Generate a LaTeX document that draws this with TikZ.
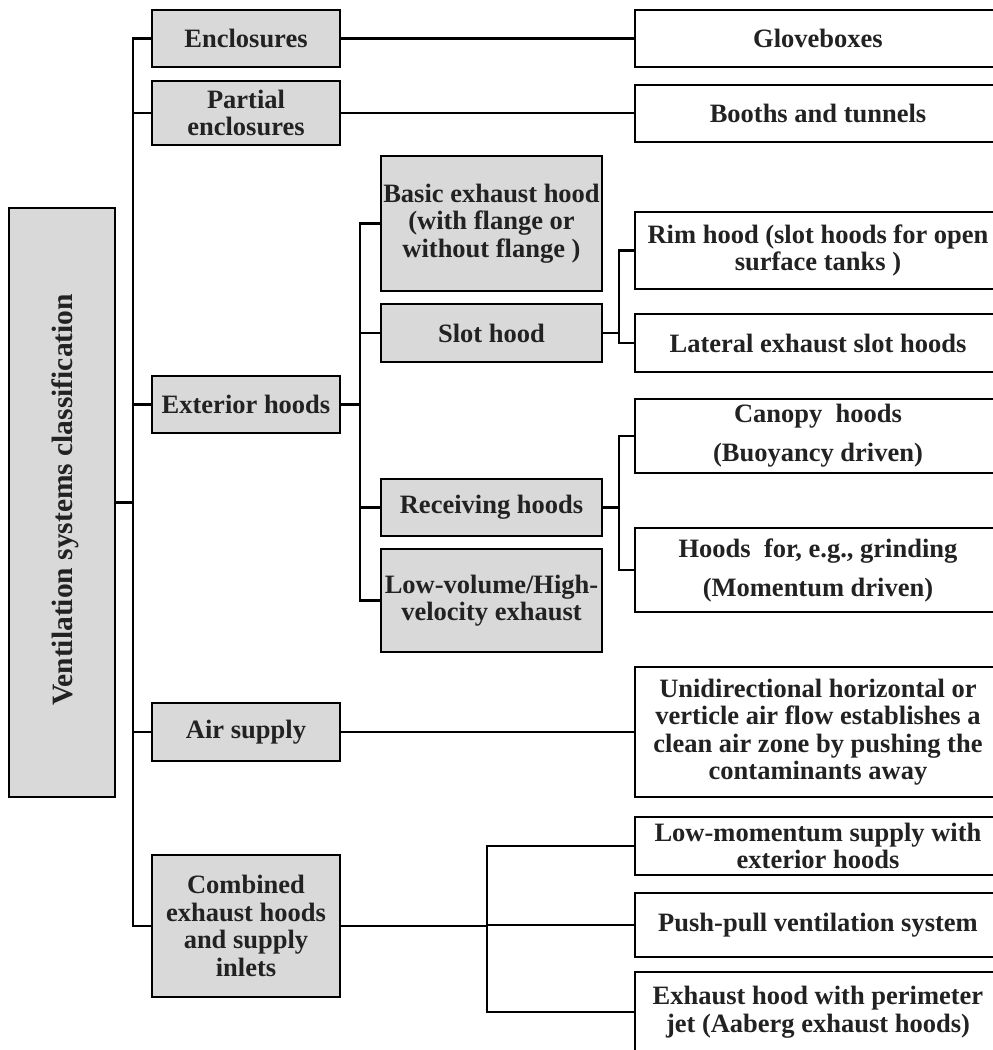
\documentclass[tikz,border=0pt]{standalone}
\usepackage{fontspec}
\setmainfont{Liberation Serif}
\definecolor{boxgray}{HTML}{D9D9D9}
\definecolor{txt}{HTML}{222222}
\begin{document}
\begin{tikzpicture}[x=1pt,y=-1pt,
  box/.style={draw=black, line width=2.6pt, inner sep=1pt, align=center, text=txt,
    font=\fontsize{26.5}{27.5}\selectfont\bfseries},
  graybox/.style={box, fill=boxgray},
  whitebox/.style={box, fill=white},
  lone/.style={graybox, minimum width=188pt},
  ltwo/.style={graybox, minimum width=221pt},
  right/.style={whitebox, minimum width=366pt},
  conn/.style={line width=2.2pt, draw=black}]
\useasboundingbox (0,0) rectangle (993,1050);
\clip (0,0) rectangle (993,1050);

% main box
\node[graybox, minimum width=106pt, minimum height=589pt] (main) at (62,502.5) {};
\node[rotate=90, text=txt, font=\fontsize{29.5}{30}\selectfont\bfseries, inner sep=0pt]
  (mainlabel) at (65,500) {Ventilation systems classification};

% level 1
\node[lone, minimum height=57pt]  (enc)  at (246,38.5)  {Enclosures};
\node[lone, minimum height=64pt]  (part) at (246,113)   {Partial\\enclosures};
\node[lone, minimum height=57pt]  (ext)  at (246,404.5) {Exterior hoods};
\node[lone, minimum height=58pt]  (air)  at (246,732)   {Air supply};
\node[lone, minimum height=142pt] (comb) at (246,926)   {Combined\\exhaust hoods\\and supply\\inlets};

% level 2
\node[ltwo, minimum height=135pt] (basic)  at (491.5,223.5) {Basic exhaust hood\\(with flange or\\without flange )};
\node[ltwo, minimum height=58pt]  (slot)   at (491.5,333)   {Slot hood};
\node[ltwo, minimum height=57pt]  (recv)   at (491.5,507.5) {Receiving hoods};
\node[ltwo, minimum height=103pt] (lowvol) at (491.5,600.5) {Low-volume/High-\\velocity exhaust};

% right column
\node[right, minimum height=57pt]  (glove)  at (818,38.5)  {Gloveboxes};
\node[right, minimum height=57pt]  (booth)  at (818,113.5) {Booths and tunnels};
\node[right, minimum height=77pt]  (rim)    at (818,250.5) {Rim hood (slot hoods for open\\surface tanks )};
\node[right, minimum height=58pt]  (lat)    at (818,343)   {Lateral exhaust slot hoods};
\node[right, minimum height=74pt]  (canopy) at (818,436)   {Canopy\ \ hoods\\[11.5pt](Buoyancy driven)};
\node[right, minimum height=84pt]  (grind)  at (818,570)   {Hoods\ \ for, e.g., grinding\\[11.5pt](Momentum driven)};
\node[right, minimum height=130pt] (uni)    at (818,732)   {Unidirectional horizontal or\\verticle air flow establishes a\\clean air zone by pushing the\\contaminants away};
\node[right, minimum height=58pt]  (lowmom) at (818,846)   {Low-momentum supply with\\exterior hoods};
\node[right, minimum height=64pt]  (push)   at (818,925)   {Push-pull ventilation system};
\node[right, minimum height=80pt]  (perim)  at (818,1012)  {Exhaust hood with perimeter\\jet (Aaberg exhaust hoods)};

% trunk coordinates
\coordinate (T)  at (133,0);
\coordinate (S1) at (360,0);
\coordinate (S2) at (619,0);
\coordinate (S3) at (487,0);

% main trunk
\draw[conn] (main.east) -- (main.east -| T);
\draw[conn] (enc.west) -- (enc.west -| T) -- (comb.west -| T) -- (comb.west);
\draw[conn] (part.west) -- (part.west -| T);
\draw[conn] (ext.west) -- (ext.west -| T);
\draw[conn] (air.west) -- (air.west -| T);

% direct links
\draw[conn] (enc.east) -- (glove.west);
\draw[conn] (part.east) -- (part.east -| booth.west);
\draw[conn] (air.east) -- (uni.west);

% exterior hoods
\draw[conn] (ext.east) -- (ext.east -| S1);
\draw[conn] (basic.west) -- (basic.west -| S1) -- (lowvol.west -| S1) -- (lowvol.west);
\draw[conn] (slot.west) -- (slot.west -| S1);
\draw[conn] (recv.west) -- (recv.west -| S1);

% slot hood
\draw[conn] (slot.east) -- (slot.east -| S2);
\draw[conn] (rim.west) -- (rim.west -| S2) -- (lat.west -| S2) -- (lat.west);

% receiving hoods
\draw[conn] (recv.east) -- (recv.east -| S2);
\draw[conn] (canopy.west) -- (canopy.west -| S2) -- (grind.west -| S2) -- (grind.west);

% combined
\draw[conn] (comb.east) -- (comb.east -| S3);
\draw[conn] (lowmom.west) -- (lowmom.west -| S3) -- (perim.west -| S3) -- (perim.west);
\draw[conn] (push.west) -- (push.west -| S3);
\end{tikzpicture}
\end{document}
